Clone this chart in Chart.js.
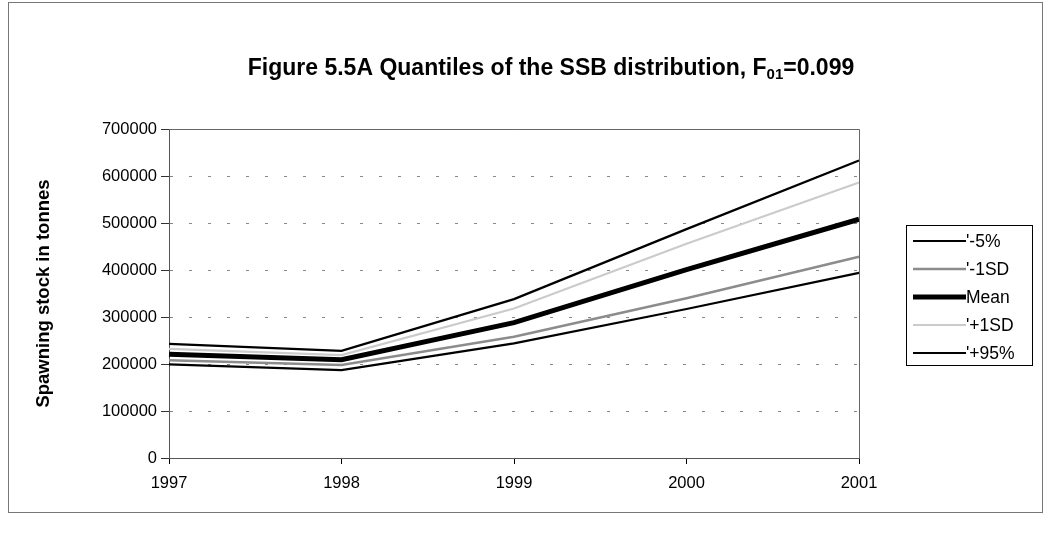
<!DOCTYPE html>
<html>
<head>
<meta charset="utf-8">
<script src="https://cdn.jsdelivr.net/npm/chart.js@4/dist/chart.umd.min.js"></script>
<style>
  body { margin: 0; background: #fff; }
  canvas { display: block; }
</style>
</head>
<body>
<canvas id="ssbChart" width="1051" height="537"></canvas>
<script>
// data
const years = ['1997', '1998', '1999', '2000', '2001'];
const pct5 = [199000, 187000, 244000, 317000, 394000];
const sdMinus = [208000, 198000, 258000, 340000, 428000];
const meanSSB = [221000, 209000, 288000, 401000, 508000];
const sdPlus = [232000, 219000, 318000, 456000, 586000];
const pct95 = [243000, 228000, 338000, 487000, 633000];
const yTicks = [0, 100000, 200000, 300000, 400000, 500000, 600000, 700000];

const FONT = '"Liberation Sans", Arial, sans-serif';

// chart frame, title with subscript, plot border and legend box
const decor = {
  id: 'decor',
  beforeDraw(chart) {
    const c = chart.ctx;
    c.save();
    c.fillStyle = '#fff';
    c.fillRect(0, 0, chart.width, chart.height);
    c.strokeStyle = '#777';
    c.lineWidth = 1;
    c.strokeRect(8.5, 2.5, 1034, 510);
    c.restore();
  },
  afterDraw(chart) {
    const c = chart.ctx;
    const a = chart.chartArea;
    c.save();
    // plot border
    c.strokeStyle = '#666';
    c.lineWidth = 1;
    c.beginPath();
    c.moveTo(a.left, a.top + 0.5);
    c.lineTo(a.right + 0.5, a.top + 0.5);
    c.lineTo(a.right + 0.5, a.bottom);
    c.stroke();

    // title
    const t1 = 'Figure 5.5A Quantiles of the SSB distribution, F';
    const sub = '01';
    const t2 = '=0.099';
    c.fillStyle = '#000';
    c.textBaseline = 'alphabetic';
    c.font = 'bold 23px ' + FONT;
    const w1 = c.measureText(t1).width;
    const w3 = c.measureText(t2).width;
    c.font = 'bold 15px ' + FONT;
    const w2 = c.measureText(sub).width;
    let x = 551 - (w1 + w2 + w3) / 2;
    const y = 75;
    c.font = 'bold 23px ' + FONT;
    c.fillText(t1, x, y);
    x += w1;
    c.font = 'bold 15px ' + FONT;
    c.fillText(sub, x, y + 4);
    x += w2;
    c.font = 'bold 23px ' + FONT;
    c.fillText(t2, x, y);

    // legend
    const lx = 906, ly = 225, lw = 126, lh = 140;
    c.strokeStyle = '#000';
    c.lineWidth = 1;
    c.strokeRect(lx + 0.5, ly + 0.5, lw, lh);
    c.font = '17.5px ' + FONT;
    c.textBaseline = 'middle';
    chart.data.datasets.forEach((ds, i) => {
      const ry = ly + 16 + i * 28;
      c.strokeStyle = ds.borderColor;
      c.lineWidth = ds.borderWidth;
      c.beginPath();
      c.moveTo(lx + 7, ry);
      c.lineTo(lx + 60, ry);
      c.stroke();
      c.fillStyle = '#000';
      c.fillText(ds.label, lx + 60, ry + 1);
    });
    c.restore();
  }
};

function series(label, data, color, width) {
  return {
    label: label,
    data: data,
    borderColor: color,
    backgroundColor: color,
    borderWidth: width,
    pointRadius: 0,
    tension: 0,
    fill: false
  };
}

new Chart(document.getElementById('ssbChart'), {
  type: 'line',
  data: {
    labels: years,
    datasets: [
      series("'-5%", pct5, '#000', 2.2),
      series("'-1SD", sdMinus, '#8c8c8c', 2.5),
      series('Mean', meanSSB, '#000', 5),
      series("'+1SD", sdPlus, '#cbcbcb', 2.2),
      series("'+95%", pct95, '#000', 2.2)
    ]
  },
  options: {
    responsive: false,
    animation: false,
    devicePixelRatio: 1,
    layout: { padding: { left: 0, right: 192, top: 129, bottom: 0 } },
    plugins: {
      legend: { display: false },
      tooltip: { enabled: false }
    },
    scales: {
      x: {
        type: 'category',
        offset: false,
        afterFit: s => { s.height = 79; },
        grid: { drawOnChartArea: false, tickLength: 6, tickColor: '#000', tickWidth: 1 },
        border: { color: '#555', width: 1 },
        ticks: { color: '#000', font: { family: FONT, size: 16.5 }, padding: 10, maxRotation: 0, autoSkip: false }
      },
      y: {
        min: 0,
        max: 700000,
        afterFit: s => { s.width = 169; },
        afterBuildTicks: s => { s.ticks = yTicks.map(v => ({ value: v })); },
        grid: { color: '#888', lineWidth: 1, tickLength: 8, tickColor: '#333', tickBorderDash: [] },
        border: { color: '#555', width: 1, dash: [3, 16] },
        ticks: {
          color: '#000',
          font: { family: FONT, size: 16.5 },
          padding: 4,
          callback: v => String(v)
        },
        title: {
          display: true,
          text: 'Spawning stock in tonnes',
          color: '#000',
          font: { family: FONT, size: 18.5, weight: 'bold' },
          padding: { top: 33, bottom: 0 }
        }
      }
    }
  },
  plugins: [decor]
});
</script>
</body>
</html>
